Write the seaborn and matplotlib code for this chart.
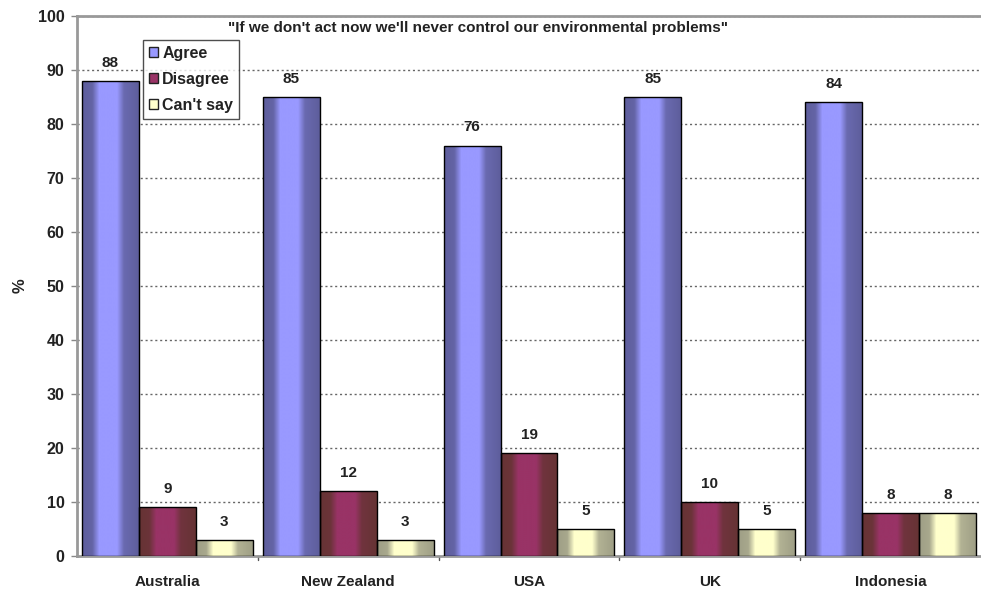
import numpy as np
import pandas as pd
import matplotlib
matplotlib.use("Agg")
import matplotlib.pyplot as plt
from matplotlib.colors import to_rgb
from matplotlib.patches import Patch
import seaborn as sns

countries = ["Australia", "New Zealand", "USA", "UK", "Indonesia"]
responses = ["Agree", "Disagree", "Can't say"]
agree = [88, 85, 76, 85, 84]
disagree = [9, 12, 19, 10, 8]
cant_say = [3, 3, 5, 5, 8]
title = "\"If we don't act now we'll never control our environmental problems\""

# Centre colour and edge shade for each response, used for the cylinder-like shading
face = {"Agree": "#9999ff", "Disagree": "#993366", "Can't say": "#ffffcc"}
shade = {"Agree": "#5e5e9c", "Disagree": "#663434", "Can't say": "#9f9f86"}

df = pd.DataFrame({
    "Country": np.repeat(countries, 3),
    "Response": responses * len(countries),
    "Value": np.ravel(np.column_stack([agree, disagree, cant_say])),
})

sns.set_style("white")
plt.rcParams["font.family"] = ["Liberation Sans", "DejaVu Sans"]

fig = plt.figure(figsize=(9.81, 5.90), dpi=100)
ax = fig.add_axes([77 / 981, 1 - 556 / 590, 1 - 77 / 981, (556 - 16) / 590])

sns.barplot(data=df, x="Country", y="Value", hue="Response", order=countries,
            hue_order=responses, palette=face, width=0.945, gap=0,
            edgecolor="black", linewidth=1.0, legend=False, ax=ax, zorder=3)

# Horizontal gradient inside each bar to give the rounded look
stops = [0.0, 0.18, 0.3, 0.62, 0.74, 1.0]
weights = [0.0, 0.1, 1.0, 1.0, 0.2, 0.0]
for container, resp in zip(ax.containers, responses):
    c1 = np.array(to_rgb(face[resp]))
    c0 = np.array(to_rgb(shade[resp]))
    xs = np.linspace(0, 1, 64)
    w = np.interp(xs, stops, weights)
    grad = (c0[None, :] * (1 - w[:, None]) + c1[None, :] * w[:, None])[None, :, :]
    for bar in container:
        x0, y0 = bar.get_x(), bar.get_y()
        bw, bh = bar.get_width(), bar.get_height()
        im = ax.imshow(grad, extent=[x0, x0 + bw, y0, y0 + bh], aspect="auto",
                       interpolation="bilinear", zorder=3.5)
        im.set_clip_path(bar)
        bar.set_facecolor("none")
        bar.set_zorder(4)
    ax.bar_label(container, fmt="%d", padding=8, fontsize=11,
                 fontweight="bold", color="#222222", zorder=5)

ax.set_xlim(-0.5, len(countries) - 0.5)
ax.set_ylim(0, 100)
ax.set_yticks(range(0, 101, 10))
ax.set_yticklabels([str(v) for v in range(0, 101, 10)], fontsize=11.5,
                   fontweight="bold", color="#222222")
ax.set_xticks(range(len(countries)))
ax.set_xticklabels(countries, fontsize=11, fontweight="bold", color="#222222")
ax.tick_params(axis="x", length=0, pad=14)
ax.tick_params(axis="y", length=4, width=1, color="#888888", direction="out", left=True, pad=5)
ax.set_xlabel("")
ax.set_ylabel("%", fontsize=12, fontweight="bold", color="#222222")
ax.yaxis.set_label_coords(-49 / 904, 0.5)

# Category separators on the x axis
for b in np.arange(0.5, len(countries) - 0.5, 1.0):
    ax.plot([b, b], [0, -0.8], color="#555555", lw=1, clip_on=False, zorder=2)

ax.yaxis.grid(True, linestyle=(0, (1.5, 2)), color="#666666", linewidth=1, zorder=0)
ax.xaxis.grid(False)
for side in ["left", "top", "bottom"]:
    ax.spines[side].set_visible(True)
    ax.spines[side].set_color("#999999")
    ax.spines[side].set_linewidth(2)
ax.spines["right"].set_visible(False)

handles = [Patch(facecolor=face[r], edgecolor="#222222", label=r) for r in responses]
leg = ax.legend(handles=handles, loc="upper left", bbox_to_anchor=(66 / 904, 1 - 24 / 540),
                frameon=True, fancybox=False, edgecolor="#222222", fontsize=11.5,
                handlelength=0.6, handleheight=0.6, handletextpad=0.25,
                borderpad=0.35, labelspacing=0.7, borderaxespad=0)
leg.get_frame().set_linewidth(1.0)
for t in leg.get_texts():
    t.set_fontweight("bold")
    t.set_color("#222222")
leg.set_zorder(6)

fig.text(478 / 981, 1 - 28 / 590, title, ha="center", va="center",
         fontsize=11, fontweight="bold", color="#222222")

fig.savefig("out.png", dpi=100)
